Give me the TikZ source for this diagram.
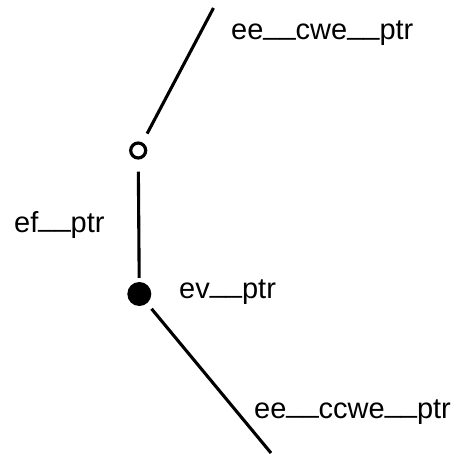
\documentclass[tikz,border=0pt]{standalone}
\usepackage{fontspec}
\setmainfont{Liberation Sans}
\newcommand\uu{\raisebox{0.19em}{\_\_}}
\begin{document}
\begin{tikzpicture}[x=1pt,y=1pt,
  edge/.style={line width=3.1pt},
  lbl/.style={anchor=base west,inner sep=0pt,font=\fontsize{29}{34}\selectfont},
  openv/.style={circle,draw,line width=3.2pt,fill=white,minimum size=15pt,inner sep=0pt},
  fullv/.style={circle,fill=black,minimum size=24pt,inner sep=0pt}]
\useasboundingbox (0,0) rectangle (460,453);
\node[openv] (v1) at (138.2,302.5) {};
\node[fullv] (v2) at (139.3,159) {};
\coordinate (t1) at (213.5,445);
\coordinate (b1) at (271,0);
\draw[edge,shorten <=10pt] (v1) -- (t1);
\draw[edge,shorten <=12pt,shorten >=4pt] (v1) -- (v2);
\draw[edge,shorten <=7pt] (v2) -- (b1);
\node[lbl] (l1) at (231,413) {ee\uu cwe\uu ptr};
\node[lbl] (l2) at (14,221) {ef\uu ptr};
\node[lbl] (l3) at (179,155) {ev\uu ptr};
\node[lbl] (l4) at (254,35) {ee\uu ccwe\uu ptr};
\end{tikzpicture}
\end{document}
